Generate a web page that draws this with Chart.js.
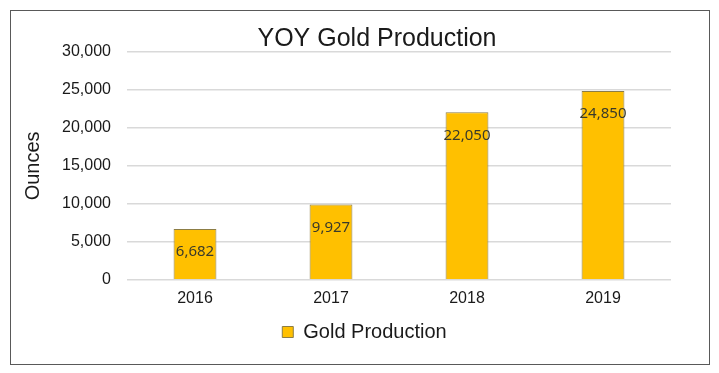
<!DOCTYPE html>
<html>
<head>
<meta charset="utf-8">
<script src="https://cdn.jsdelivr.net/npm/chart.js@4"></script>
<style>
  html, body { margin: 0; padding: 0; background: #fff; }
  #wrap { position: relative; width: 719px; height: 373px; }
</style>
</head>
<body>
<div id="wrap"><canvas id="grafOuro"></canvas></div>
<script>
// dados
const anos = ['2016', '2017', '2018', '2019'];
const producao = [6682, 9927, 22050, 24850];
const ticksY = [0, 5000, 10000, 15000, 20000, 25000, 30000];
const titulo = 'YOY Gold Production';
const tituloY = 'Ounces';

const OURO = '#FFC000';
const BORDA = '#8c7d45';
const GRADE = '#d9d9d9';
const TEXTO = '#1a1a1a';
const FONTE = "'Liberation Sans', Arial, sans-serif";

Chart.defaults.font.family = FONTE;
Chart.defaults.color = TEXTO;

function fmt(n) { return n.toLocaleString('en-US'); }

// moldura, título e título do eixo Y (posições do Excel, fora do layout do Chart.js)
const moldura = {
  id: 'moldura',
  afterDraw(chart) {
    const c = chart.ctx;
    const a = chart.chartArea;
    c.save();
    c.strokeStyle = '#595959';
    c.lineWidth = 1;
    c.strokeRect(10.5, 10.5, 699, 354);
    c.fillStyle = TEXTO;
    c.textAlign = 'center';
    c.textBaseline = 'middle';
    c.font = '25px ' + FONTE;
    c.fillText(titulo, 377, 39);
    c.translate(33, (a.top + a.bottom) / 2);
    c.rotate(-Math.PI / 2);
    c.font = '20px ' + FONTE;
    c.fillText(tituloY, 0, 0);
    c.restore();
  }
};

// rótulos dentro da barra, perto do topo
const rotulos = {
  id: 'rotulos',
  afterDatasetsDraw(chart) {
    const c = chart.ctx;
    const meta = chart.getDatasetMeta(0);
    c.save();
    c.font = "15px 'Noto Sans', sans-serif";
    c.fillStyle = '#3a3a2a';
    c.textAlign = 'center';
    c.textBaseline = 'middle';
    meta.data.forEach((el, i) => {
      c.fillText(fmt(producao[i]), el.x, el.y + 23);
    });
    c.restore();
  }
};

new Chart(document.getElementById('grafOuro'), {
  type: 'bar',
  data: {
    labels: anos,
    datasets: [{
      label: 'Gold Production',
      data: producao,
      backgroundColor: OURO,
      borderColor: BORDA,
      borderWidth: 1,
      categoryPercentage: 1,
      barPercentage: 0.315
    }]
  },
  options: {
    responsive: true,
    maintainAspectRatio: false,
    animation: false,
    layout: { padding: { left: 58, right: 48, top: 52, bottom: 21 } },
    plugins: {
      title: { display: false },
      legend: {
        position: 'bottom',
        labels: {
          boxWidth: 11,
          boxHeight: 11,
          padding: 5,
          font: { size: 20 },
          color: TEXTO
        }
      },
      tooltip: { enabled: false }
    },
    scales: {
      x: {
        grid: { display: false, drawTicks: false },
        border: { display: false },
        ticks: { font: { size: 16 }, color: TEXTO, padding: 9 }
      },
      y: {
        min: 0,
        max: 30000,
        afterBuildTicks: (s) => { s.ticks = ticksY.map(v => ({ value: v })); },
        afterFit: (s) => { s.width = 69; },
        grid: { color: GRADE, lineWidth: 1.5, drawTicks: false },
        border: { display: false },
        ticks: { font: { size: 16 }, color: TEXTO, padding: 16, callback: (v) => fmt(v) }
      }
    }
  },
  plugins: [moldura, rotulos]
});
</script>
</body>
</html>
